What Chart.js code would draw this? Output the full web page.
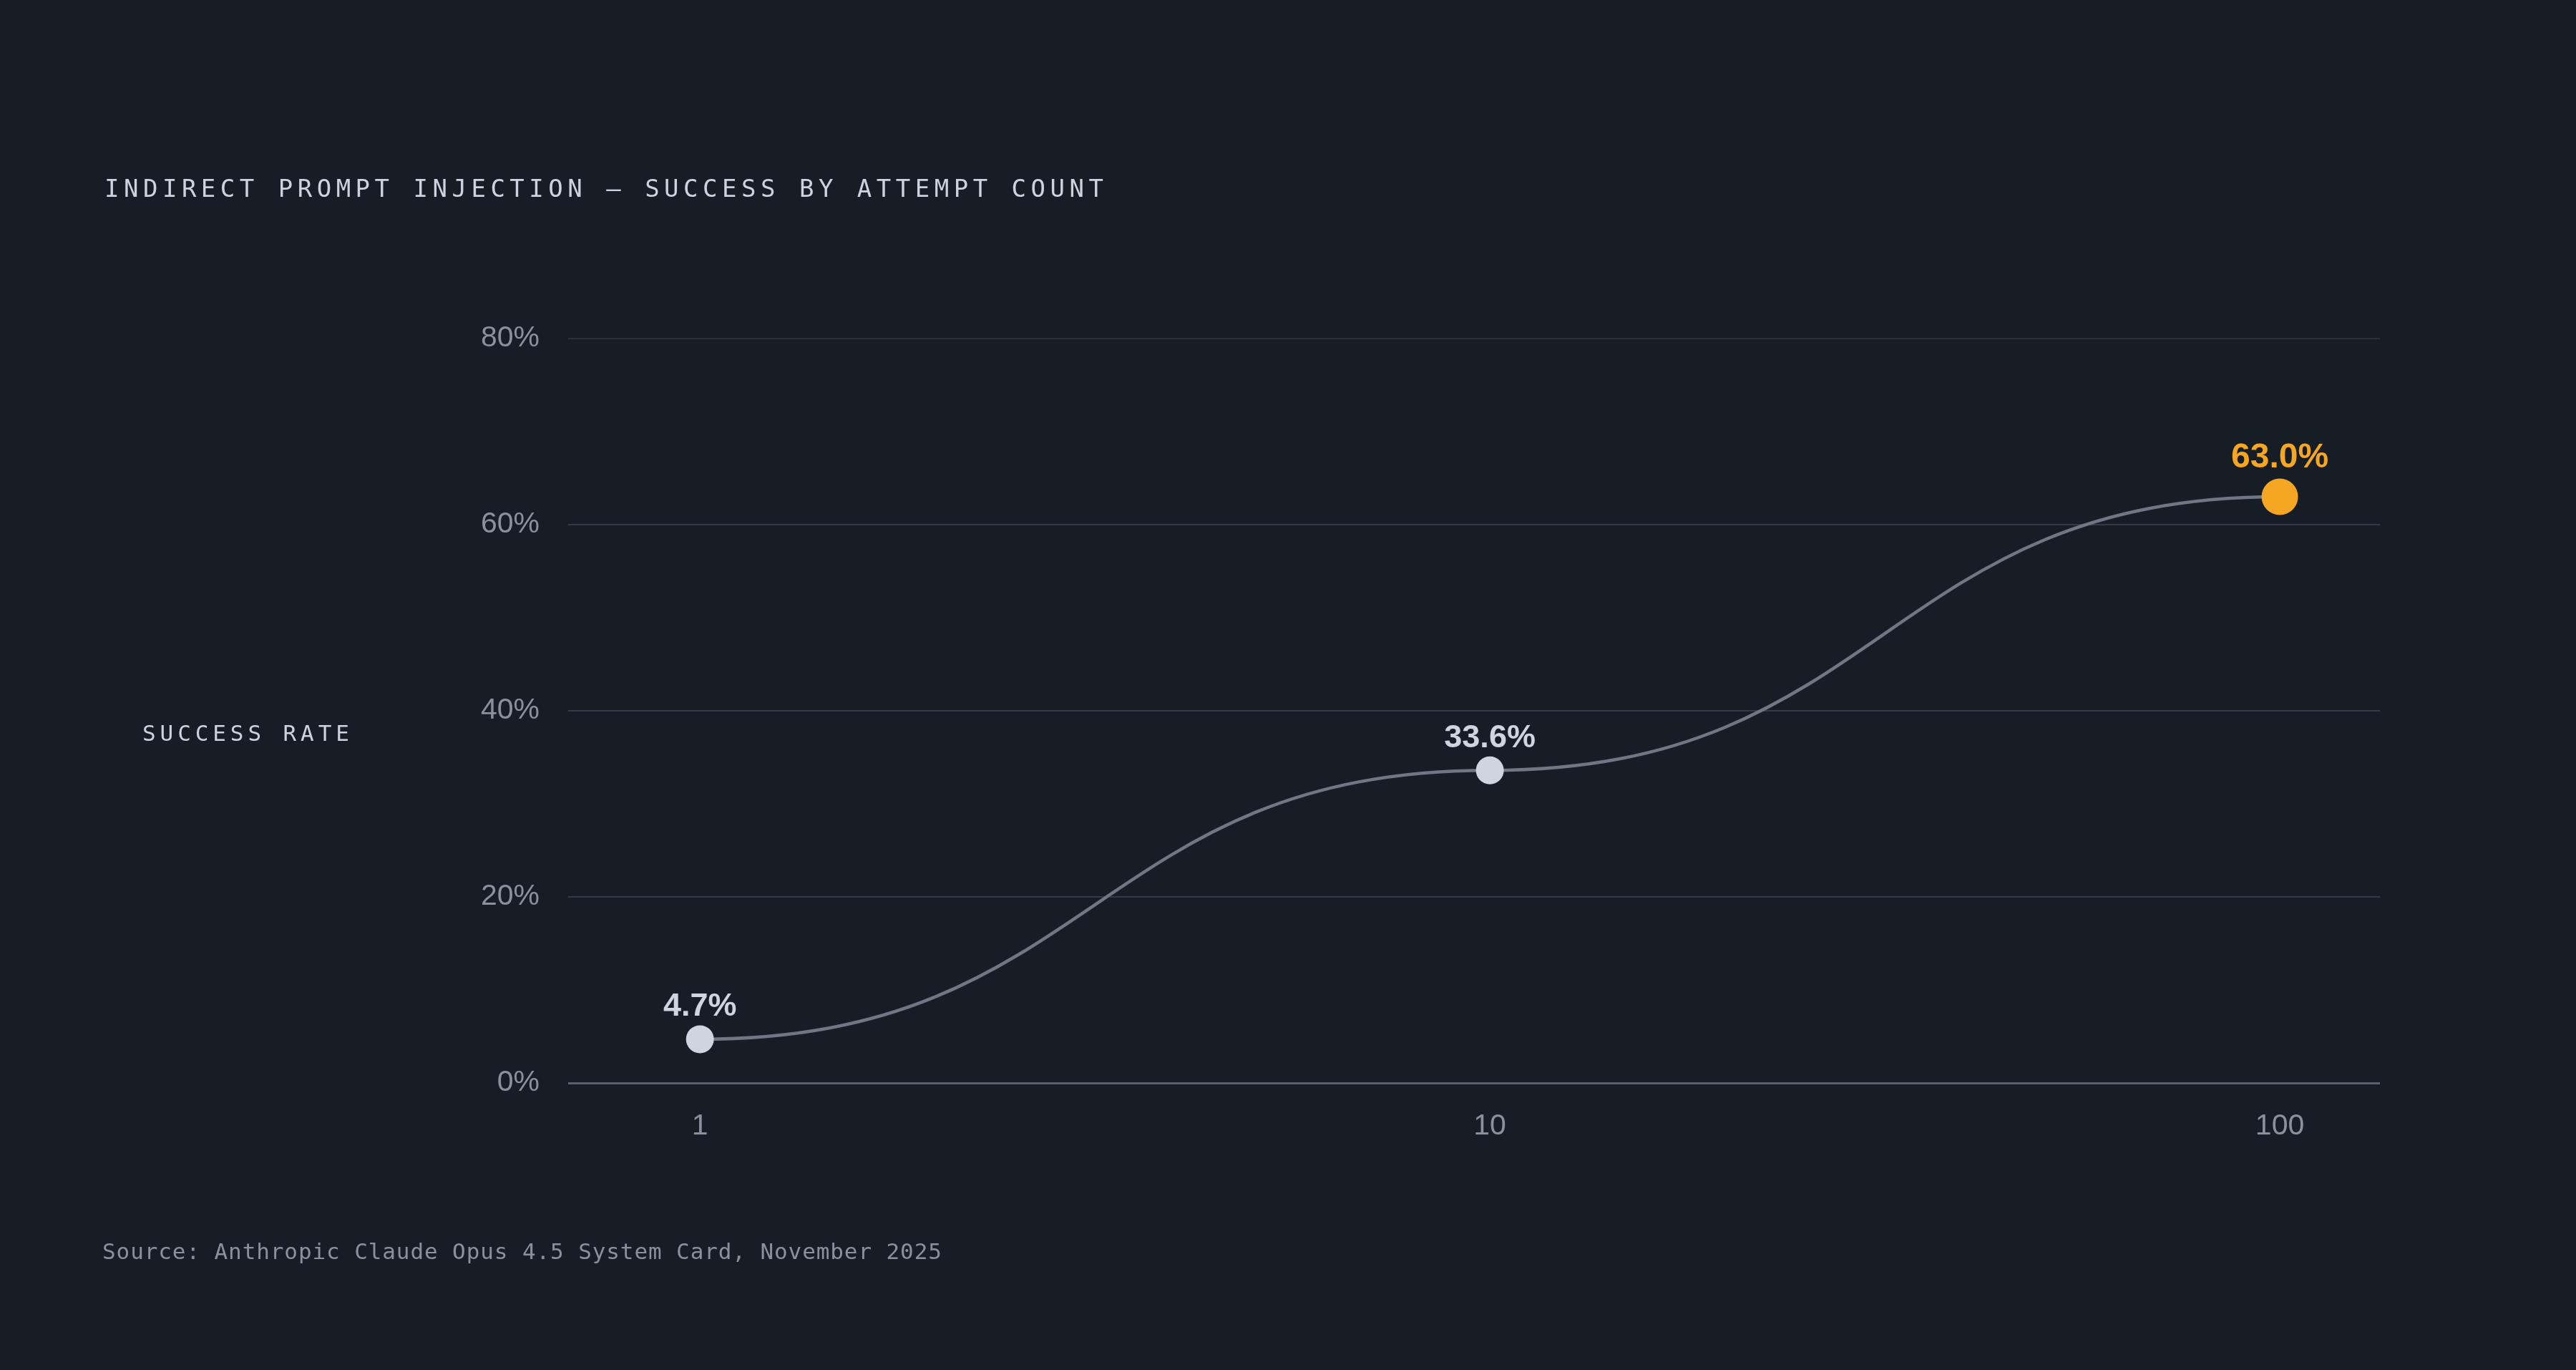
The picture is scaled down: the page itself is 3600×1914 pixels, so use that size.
<!DOCTYPE html>
<html>
<head>
<meta charset="utf-8">
<script src="https://cdn.jsdelivr.net/npm/chart.js@4.4.1/dist/chart.umd.min.js"></script>
<style>
  html, body { margin: 0; padding: 0; background: #171d24; }
  canvas { display: block; }
</style>
</head>
<body>
<canvas id="chart" width="3600" height="1914"></canvas>
<script>
// data
const attempts = [1, 10, 100];
const successRates = [4.7, 33.6, 63.0];
const xTickValues = [1, 10, 100];
const yTickValues = [0, 20, 40, 60, 80];

const titleText = 'INDIRECT PROMPT INJECTION — SUCCESS BY ATTEMPT COUNT';
const yAxisText = 'SUCCESS RATE';
const sourceText = 'Source: Anthropic Claude Opus 4.5 System Card, November 2025';

const BG = '#171d24';
const LIGHT = '#cfd5de';
const ORANGE = '#f5a623';
const MUTED = '#8a919b';
const MONO = '"DejaVu Sans Mono", "Liberation Mono", monospace';
const SANS = '"Liberation Sans", Arial, Helvetica, sans-serif';

const lastIdx = successRates.length - 1;

// draws text one char at a time so letter spacing works everywhere
function spacedText(ctx, text, x, y, font, color, spacing) {
  ctx.save();
  ctx.font = font;
  ctx.fillStyle = color;
  ctx.textAlign = 'left';
  ctx.textBaseline = 'alphabetic';
  let cx = x;
  for (const ch of text) {
    ctx.fillText(ch, cx, y);
    cx += ctx.measureText(ch).width + spacing;
  }
  ctx.restore();
}

const background = {
  id: 'background',
  beforeDraw: (chart) => {
    const { ctx, width, height } = chart;
    ctx.save();
    ctx.fillStyle = BG;
    ctx.fillRect(0, 0, width, height);
    ctx.restore();
  },
};

// smooth line with flat tangents at each point
const bumpLine = {
  id: 'bumpLine',
  beforeDatasetsDraw: (chart) => {
    const pts = chart.getDatasetMeta(0).data;
    if (!pts.length) return;
    const ctx = chart.ctx;
    ctx.save();
    ctx.beginPath();
    ctx.moveTo(pts[0].x, pts[0].y);
    for (let i = 1; i < pts.length; i++) {
      const p0 = pts[i - 1];
      const p1 = pts[i];
      const mx = (p0.x + p1.x) / 2;
      ctx.bezierCurveTo(mx, p0.y, mx, p1.y, p1.x, p1.y);
    }
    ctx.strokeStyle = '#6e7783';
    ctx.lineWidth = 4.5;
    ctx.stroke();
    ctx.restore();
  },
};

const valueLabels = {
  id: 'valueLabels',
  afterDatasetsDraw: (chart) => {
    const ctx = chart.ctx;
    const meta = chart.getDatasetMeta(0);
    ctx.save();
    ctx.textAlign = 'center';
    ctx.textBaseline = 'alphabetic';
    meta.data.forEach((pt, i) => {
      const r = pt.options.radius;
      const hi = i === lastIdx;
      ctx.font = `bold ${hi ? 48 : 45}px ${SANS}`;
      ctx.fillStyle = hi ? ORANGE : LIGHT;
      ctx.fillText(`${successRates[i].toFixed(1)}%`, pt.x, pt.y - r - (hi ? 16 : 13));
    });
    ctx.restore();
  },
};

const pageText = {
  id: 'pageText',
  afterDraw: (chart) => {
    const ctx = chart.ctx;
    spacedText(ctx, titleText, 146, 275, `34px ${MONO}`, '#cdd3dc', 6.5);
    spacedText(ctx, yAxisText, 199, 1035, `31px ${MONO}`, '#cdd3dc', 5.9);
    spacedText(ctx, sourceText, 143, 1759, `31px ${MONO}`, MUTED, 0.9);
  },
};

new Chart(document.getElementById('chart').getContext('2d'), {
  type: 'line',
  data: {
    datasets: [
      {
        data: attempts.map((a, i) => ({ x: a, y: successRates[i] })),
        showLine: false,
        pointRadius: (c) => (c.dataIndex === lastIdx ? 25.5 : 19.5),
        pointHoverRadius: (c) => (c.dataIndex === lastIdx ? 25.5 : 19.5),
        pointBackgroundColor: (c) => (c.dataIndex === lastIdx ? ORANGE : LIGHT),
        pointBorderWidth: 0,
        clip: false,
      },
    ],
  },
  options: {
    responsive: false,
    animation: false,
    events: [],
    layout: {
      autoPadding: false,
      padding: { left: 0, top: 473, right: 274, bottom: 301 },
    },
    plugins: {
      legend: { display: false },
      tooltip: { enabled: false },
    },
    scales: {
      x: {
        type: 'logarithmic',
        min: 0.681,
        max: 133.9,
        grid: { display: false, drawTicks: false },
        border: { display: false },
        afterBuildTicks: (scale) => {
          scale.ticks = xTickValues.map((v) => ({ value: v }));
        },
        afterFit: (scale) => {
          scale.height = 100;
        },
        ticks: {
          color: MUTED,
          font: { family: SANS, size: 41 },
          padding: 36,
          maxRotation: 0,
          callback: (v) => String(v),
        },
      },
      y: {
        min: 0,
        max: 80,
        afterBuildTicks: (scale) => {
          scale.ticks = yTickValues.map((v) => ({ value: v }));
        },
        afterFit: (scale) => {
          scale.width = 794;
        },
        grid: {
          drawTicks: false,
          color: (c) => {
            if (c.tick.value === 0) return '#5a616b';
            if (c.tick.value === 80) return '#2a3038';
            return '#353b44';
          },
          lineWidth: (c) => (c.tick.value === 0 ? 3 : 2),
        },
        border: { display: false },
        ticks: {
          color: MUTED,
          font: { family: SANS, size: 41 },
          padding: 40,
          callback: (v) => `${v}%`,
        },
      },
    },
  },
  plugins: [background, bumpLine, valueLabels, pageText],
});
</script>
</body>
</html>
